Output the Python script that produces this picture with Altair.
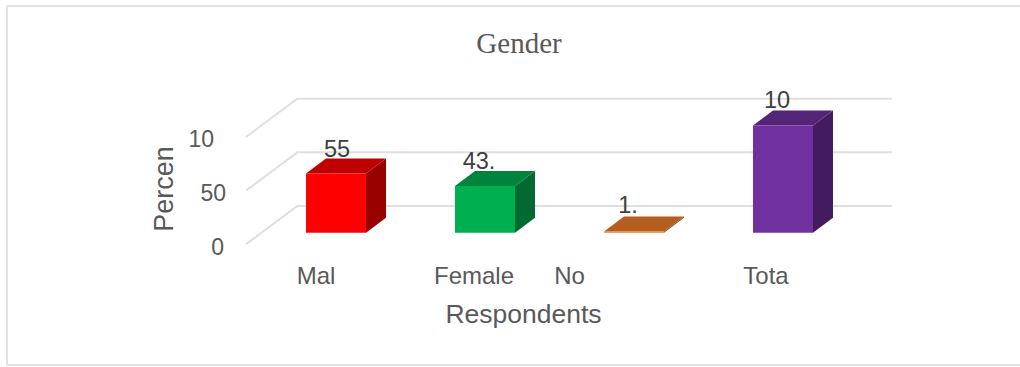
import altair as alt
import pandas as pd

# Survey results: share of respondents per gender group
categories = ["Mal", "Female", "No", "Tota"]
values = [55.1, 43.6, 1.2, 100.0]
value_labels = ["55", "43.", "1.", "10"]
front_colors = ["#ff0000", "#00b050", "#ed7d31", "#7030a0"]
top_colors = ["#bf0000", "#00843c", "#b45f20", "#542478"]
side_colors = ["#990000", "#006a30", "#8a4a18", "#431c60"]
y_ticks = [0, 50, 100]
y_tick_labels = ["0", "50", "10"]

# Page geometry of the plot area and the mapping from data units to pixels
FRAME = dict(left=7, top=6, right=0, bottom=2)
W, H = 1013, 359
SLOT_PX, FIRST_PX = 149.0, 336.0
UNIT_PX, ZERO_PX = 1.073, 232.7


def sx(px):
    return (px - FIRST_PX) / SLOT_PX


def sy(px):
    return (ZERO_PX - px) / UNIT_PX


x_scale = alt.Scale(domain=[sx(FRAME["left"]), sx(FRAME["left"] + W)], nice=False, zero=False)
y_scale = alt.Scale(domain=[sy(FRAME["top"] + H), sy(FRAME["top"])], nice=False, zero=False)


def X(field):
    return alt.X(field, type="quantitative", scale=x_scale, axis=None)


def Y(field):
    return alt.Y(field, type="quantitative", scale=y_scale, axis=None)


BAR_HALF = 30 / SLOT_PX
DEPTH_X = 20 / SLOT_PX
DEPTH_Y = 15 / UNIT_PX

# Outer frame: open on the right, where it runs off the page
left_px, right_px = FRAME["left"], FRAME["left"] + W
top_px, bottom_px = FRAME["top"], FRAME["top"] + H
frame_rows = [
    {"edge": "top", "step": 0, "x": sx(left_px), "y": sy(top_px)},
    {"edge": "top", "step": 1, "x": sx(right_px), "y": sy(top_px)},
    {"edge": "left", "step": 0, "x": sx(left_px), "y": sy(top_px)},
    {"edge": "left", "step": 1, "x": sx(left_px), "y": sy(bottom_px)},
    {"edge": "bottom", "step": 0, "x": sx(left_px), "y": sy(bottom_px)},
    {"edge": "bottom", "step": 1, "x": sx(right_px), "y": sy(bottom_px)},
]
frame = alt.Chart(pd.DataFrame(frame_rows)).mark_line(color="#e2e2e2", strokeWidth=2).encode(
    x=X("x"), y=Y("y"), detail="edge:N", order="step:Q"
)

# Receding floor and wall grid lines
grid_rows = []
for t in y_ticks:
    for step, (px, offset) in enumerate([(246, -10.8), (297.3, 24.9), (892, 24.9)]):
        grid_rows.append({"tick": t, "step": step, "x": sx(px), "y": t + offset})
grid = alt.Chart(pd.DataFrame(grid_rows)).mark_line(color="#dfdfdf", strokeWidth=2).encode(
    x=X("x"), y=Y("y"), detail="tick:N", order="step:Q"
)

front_rows, side_rows, top_rows = [], [], []
for i, v in enumerate(values):
    left, right = i - BAR_HALF, i + BAR_HALF
    front_rows.append({"x": left, "x2": right, "y": 0, "y2": v, "fill": front_colors[i]})
    for a in [0, 1]:
        side_rows.append({
            "bar": i, "x": right + a * DEPTH_X, "y": a * DEPTH_Y, "y2": v + a * DEPTH_Y,
            "fill": side_colors[i],
        })
        top_rows.append({
            "bar": i, "y": v + a * DEPTH_Y, "x": left + a * DEPTH_X, "x2": right + a * DEPTH_X,
            "fill": top_colors[i],
        })

sides = alt.Chart(pd.DataFrame(side_rows)).mark_area(orient="vertical").encode(
    x=X("x"), y=Y("y"), y2="y2:Q", detail="bar:N", color=alt.Color("fill:N", scale=None)
)
tops = alt.Chart(pd.DataFrame(top_rows)).mark_area(orient="horizontal").encode(
    y=Y("y"), x=X("x"), x2="x2:Q", detail="bar:N", color=alt.Color("fill:N", scale=None)
)
fronts = alt.Chart(pd.DataFrame(front_rows)).mark_rect().encode(
    x=X("x"), x2="x2:Q", y=Y("y"), y2="y2:Q", color=alt.Color("fill:N", scale=None)
)


def text_layer(rows, **mark):
    style = dict(font="Liberation Sans", color="#595959", baseline="alphabetic")
    style.update(mark)
    return alt.Chart(pd.DataFrame(rows)).mark_text(**style).encode(
        x=X("x"), y=Y("y"), text="label:N"
    )


# Value labels above each bar
label_shift = [1, -6, -6, -6]
label_lift = [17, 16.7, 18.6, 17.4]
value_text = text_layer(
    [
        {"x": i + label_shift[i] / SLOT_PX, "y": values[i] + label_lift[i] / UNIT_PX, "label": value_labels[i]}
        for i in range(len(values))
    ],
    fontSize=23.5, color="#404040",
)

# Category names under the floor
category_px = [316, 474, 569.5, 766]
category_text = text_layer(
    [{"x": sx(category_px[i]), "y": sy(284), "label": categories[i]} for i in range(len(categories))],
    fontSize=24,
)

# Value-axis labels, level with the front end of each grid line
tick_right_px = [224, 226, 214]
tick_text = text_layer(
    [
        {"x": sx(tick_right_px[i]), "y": y_ticks[i] - 10.8 - 3.5 / UNIT_PX, "label": y_tick_labels[i]}
        for i in range(len(y_ticks))
    ],
    fontSize=23, align="right", baseline="middle",
)

x_title = text_layer([{"x": sx(523.5), "y": sy(323), "label": "Respondents"}], fontSize=26.5)
y_title = text_layer([{"x": sx(172.5), "y": sy(189), "label": "Percen"}], fontSize=27, angle=270)
chart_title = text_layer(
    [{"x": sx(519), "y": sy(52.5), "label": "Gender"}], fontSize=29, font="Liberation Serif"
)

chart = (
    alt.layer(frame, grid, sides, tops, fronts, value_text, category_text, tick_text, x_title, y_title, chart_title)
    .properties(
        width=W, height=H, padding=FRAME, background="white",
        autosize=alt.AutoSizeParams(type="none"),
    )
    .configure_view(stroke=None)
)

chart.save("out.html", embed_options={"renderer": "svg", "actions": False})
